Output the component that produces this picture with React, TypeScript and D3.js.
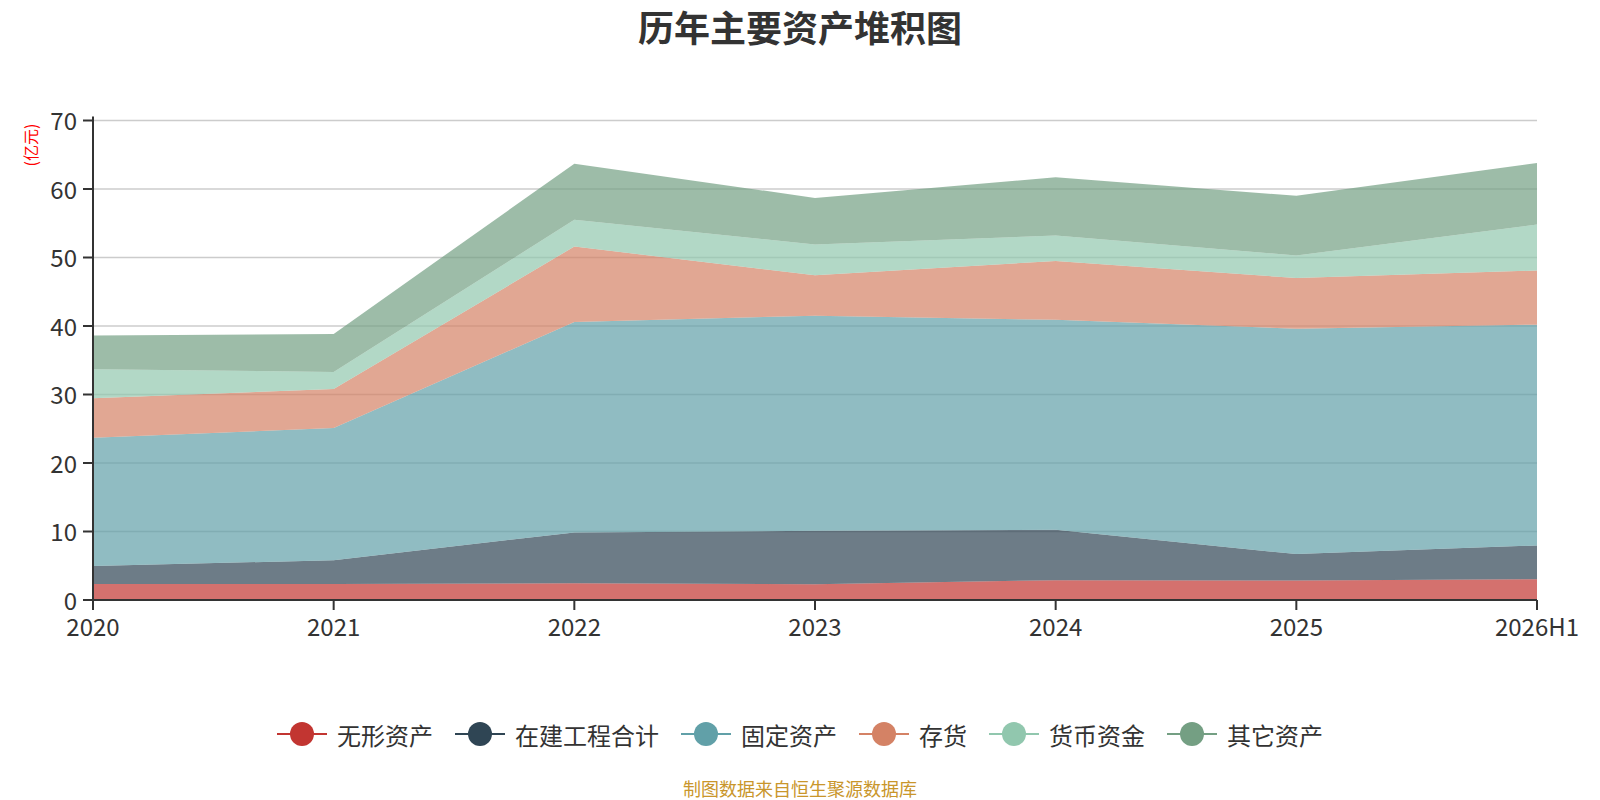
import React from "react";
import * as d3 from "d3";

const categories = ["2020", "2021", "2022", "2023", "2024", "2025", "2026H1"];
const seriesNames = ["无形资产", "在建工程合计", "固定资产", "存货", "货币资金", "其它资产"];
const wuxing = [2.34, 2.34, 2.44, 2.3, 2.9, 2.83, 3.03];
const zaijian = [2.63, 3.46, 7.43, 7.8, 7.36, 3.87, 4.93];
const guding = [18.73, 19.3, 30.73, 31.4, 30.64, 32.9, 32.24];
const cunhuo = [5.75, 5.7, 11.0, 5.9, 8.6, 7.4, 7.9];
const huobi = [4.25, 2.5, 3.9, 4.5, 3.7, 3.3, 6.7];
const qita = [4.9, 5.55, 8.2, 6.8, 8.5, 8.7, 9.0];
const yTicks = [0, 10, 20, 30, 40, 50, 60, 70];
const colors = ["#c23531", "#2f4554", "#61a0a8", "#d48265", "#91c7ae", "#749f83"];

const W = 1600;
const H = 800;
const left = 93;
const right = 1537;
const top = 120.5;
const bottom = 600;
const FONT = "'Noto Sans CJK SC', 'Noto Sans', sans-serif";

export default function App() {
  const values = [wuxing, zaijian, guding, cunhuo, huobi, qita];
  const rows = categories.map((c, i) => {
    const r: Record<string, any> = { cat: c };
    seriesNames.forEach((s, k) => (r[s] = values[k][i]));
    return r;
  });
  const stacked = d3.stack<any>().keys(seriesNames)(rows);
  const x = d3.scalePoint<string>().domain(categories).range([left, right]);
  const y = d3.scaleLinear().domain([0, 70]).range([bottom, top]);
  const area = d3
    .area<any>()
    .x((d) => x(d.data.cat) as number)
    .y0((d) => y(d[0]))
    .y1((d) => y(d[1]));

  // legend layout
  const legFont = 24;
  const iconW = 50;
  const gapIconText = 10;
  const gapItems = 22;
  const widths = seriesNames.map((s) => iconW + gapIconText + s.length * legFont);
  const total = widths.reduce((a, b) => a + b, 0) + gapItems * (seriesNames.length - 1);
  let cursor = W / 2 - total / 2;
  const legendItems = seriesNames.map((s, i) => {
    const x0 = cursor;
    cursor += widths[i] + gapItems;
    return { s, x0, color: colors[i] };
  });
  const legY = 734;

  return (
    <svg width={W} height={H} style={{ position: "absolute", left: 0, top: 0 }} fontFamily={FONT}>
      <rect width={W} height={H} fill="#fff" />
      <text x={800} y={26} textAnchor="middle" dominantBaseline="central" fontSize={36} fontWeight="bold" fill="#333">
        历年主要资产堆积图
      </text>
      {/* grid */}
      {yTicks.filter((t) => t > 0).map((t) => (
        <line key={t} x1={left} x2={right} y1={y(t)} y2={y(t)} stroke="#ccc" strokeWidth={1.5} />
      ))}
      {/* areas */}
      {stacked.map((s, i) => (
        <path key={s.key} d={area(s) as string} fill={colors[i]} fillOpacity={0.7} />
      ))}
      {/* y axis */}
      <line x1={left} x2={left} y1={top - 4} y2={bottom} stroke="#333" strokeWidth={2} />
      {yTicks.map((t) => (
        <g key={t}>
          <line x1={left - 10} x2={left} y1={y(t)} y2={y(t)} stroke="#333" strokeWidth={2} />
          <text x={left - 16} y={y(t) - 1} textAnchor="end" dominantBaseline="central" fontSize={24} fill="#333">
            {t}
          </text>
        </g>
      ))}
      <text
        transform={`translate(30,145) rotate(-90)`}
        textAnchor="middle"
        dominantBaseline="central"
        fontSize={16}
        fill="#ff0000"
      >
        (亿元)
      </text>
      {/* x axis */}
      <line x1={left} x2={right} y1={bottom} y2={bottom} stroke="#333" strokeWidth={2} />
      {categories.map((c) => (
        <g key={c}>
          <line x1={x(c)} x2={x(c)} y1={bottom} y2={bottom + 10} stroke="#333" strokeWidth={2} />
          <text x={x(c)} y={625} textAnchor="middle" dominantBaseline="central" fontSize={24} fill="#333">
            {c}
          </text>
        </g>
      ))}
      {/* legend */}
      {legendItems.map((it) => (
        <g key={it.s}>
          <line x1={it.x0} x2={it.x0 + iconW} y1={legY} y2={legY} stroke={it.color} strokeWidth={2} />
          <circle cx={it.x0 + iconW / 2} cy={legY} r={12} fill={it.color} />
          <text
            x={it.x0 + iconW + gapIconText}
            y={legY}
            dominantBaseline="central"
            fontSize={legFont}
            fill="#333"
          >
            {it.s}
          </text>
        </g>
      ))}
      <text x={800} y={788} textAnchor="middle" dominantBaseline="central" fontSize={18} fill="#c9962b">
        制图数据来自恒生聚源数据库
      </text>
    </svg>
  );
}
